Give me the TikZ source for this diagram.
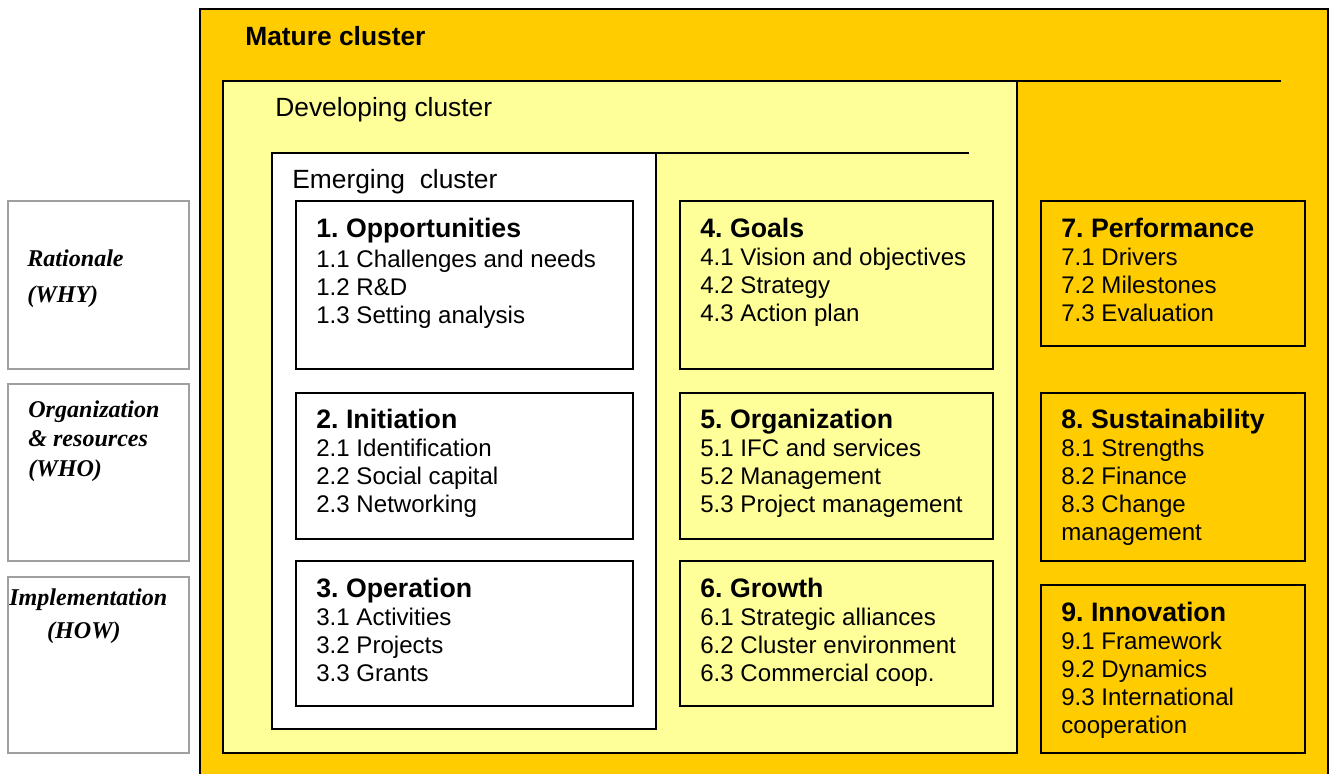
\documentclass[tikz,border=0pt]{standalone}
\usepackage{fontspec}
\setmainfont{Liberation Sans}
\newfontfamily\labelserif{Liberation Serif}
\usepackage{tikz}
\frenchspacing
\definecolor{maturegold}{HTML}{FFCC00}
\definecolor{devyellow}{HTML}{FFFF99}
\definecolor{labelgray}{HTML}{A0A0A0}
\tikzset{
  areabox/.style={draw=black, line width=1pt},
  sidebox/.style={draw=labelgray, line width=1.2pt, fill=white},
  itembox/.style={draw=black, line width=1.1pt},
  itemtext/.style={anchor=north west, inner sep=0pt, align=left, font=\fontsize{13.7}{15.9}\selectfont},
  sidetext/.style={anchor=north west, inner sep=0pt, align=left, font=\labelserif\bfseries\itshape\fontsize{13.7}{17}\selectfont},
  titletext/.style={anchor=base west, inner sep=0pt, font=\fontsize{15}{18}\selectfont}
}
\newcommand{\head}[1]{{\bfseries\fontsize{15.2}{15.9}\selectfont #1}}

\begin{document}
\begin{tikzpicture}
				\useasboundingbox (0,0) rectangle (26.58,15.48);
				
				% mature cluster
				\draw[areabox, fill=maturegold] (4.0,15.30) rectangle (26.56,-0.5);
				\node[titletext, font=\bfseries\fontsize{15}{18}\selectfont] (mature) at (4.9,14.56) {Mature cluster};
				
				% developing cluster
				\draw[areabox, fill=devyellow] (4.46,13.86) rectangle (20.34,0.42);
				\draw[areabox] (20.34,13.86) -- (25.62,13.86);
				\node[titletext] (developing) at (5.5,13.14) {Developing cluster};
				
				% emerging cluster
				\draw[areabox, fill=white] (5.44,12.42) rectangle (13.12,0.90);
				\draw[areabox] (13.12,12.42) -- (19.38,12.42);
				\node[titletext] (emerging) at (5.84,11.70) {Emerging~ cluster};
				
				% side labels
				\draw[sidebox] (0.16,11.46) rectangle (3.78,8.10);
				\draw[sidebox] (0.16,7.80) rectangle (3.78,4.26);
				\draw[sidebox] (0.16,3.94) rectangle (3.78,0.42);
				\node[sidetext] (why) at (0.54,10.50) {Rationale\\[4pt](WHY)};
				\node[sidetext] (who) at (0.56,7.48) {Organization\\\& resources\\(WHO)};
				\node[sidetext] (how) at (0.18,3.72) {Implementation\\[2pt]\hspace*{21.5pt}(HOW)};
				
				% first column
				\draw[itembox, fill=white] (5.92,11.46) rectangle (12.66,8.10);
				\draw[itembox, fill=white] (5.92,7.62) rectangle (12.66,4.70);
				\draw[itembox, fill=white] (5.92,4.26) rectangle (12.66,1.36);
				\node[itemtext] (opportunities) at (6.32,11.12) {\head{1. Opportunities}\\[1pt]1.1 Challenges and needs\\1.2 R\&D\\1.3 Setting analysis};
				\node[itemtext] (initiation) at (6.32,7.30) {\head{2. Initiation}\\2.1 Identification\\2.2 Social capital\\2.3 Networking};
				\node[itemtext] (operation) at (6.32,3.92) {\head{3. Operation}\\3.1 Activities\\3.2 Projects\\3.3 Grants};
				
				% second column
				\draw[itembox, fill=devyellow] (13.60,11.46) rectangle (19.86,8.10);
				\draw[itembox, fill=devyellow] (13.60,7.62) rectangle (19.86,4.70);
				\draw[itembox, fill=devyellow] (13.60,4.26) rectangle (19.86,1.36);
				\node[itemtext] (goals) at (14.0,11.12) {\head{4. Goals}\\4.1 Vision and objectives\\4.2 Strategy\\4.3 Action plan};
				\node[itemtext] (organization) at (14.0,7.30) {\head{5. Organization}\\5.1 IFC and services\\5.2 Management\\5.3 Project management};
				\node[itemtext] (growth) at (14.0,3.92) {\head{6. Growth}\\6.1 Strategic alliances\\6.2 Cluster environment\\6.3 Commercial coop.};
				
				% third column
				\draw[itembox, fill=maturegold] (20.82,11.46) rectangle (26.10,8.56);
				\draw[itembox, fill=maturegold] (20.82,7.62) rectangle (26.10,4.26);
				\draw[itembox, fill=maturegold] (20.82,3.78) rectangle (26.10,0.42);
				\node[itemtext] (performance) at (21.22,11.12) {\head{7. Performance}\\7.1 Drivers\\7.2 Milestones\\7.3 Evaluation};
				\node[itemtext] (sustainability) at (21.22,7.30) {\head{8. Sustainability}\\8.1 Strengths\\8.2 Finance\\8.3 Change\\management};
				\node[itemtext] (innovation) at (21.22,3.44) {\head{9. Innovation}\\9.1 Framework\\9.2 Dynamics\\9.3 International\\cooperation};
\end{tikzpicture}
\end{document}
